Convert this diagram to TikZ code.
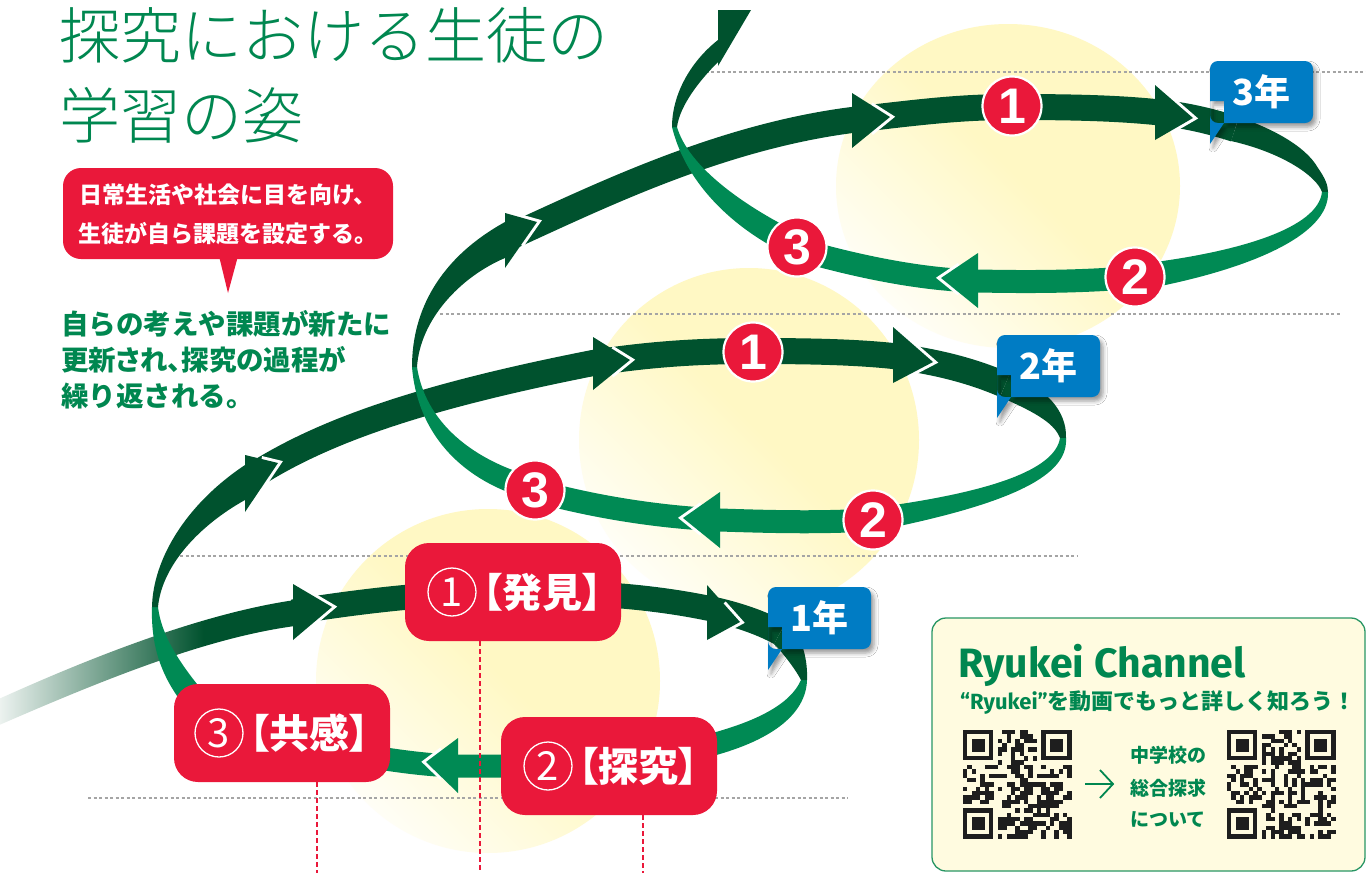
\documentclass[tikz,border=0pt]{standalone}
\usepackage{fontspec}
\setmainfont{Liberation Sans}
\newfontfamily\jp{Noto Sans CJK JP}
\newfontfamily\jpl{Noto Sans CJK JP Light}
\newfontfamily\jpp[RawFeature=+palt]{Noto Sans CJK JP}
\newfontfamily\digf{Liberation Sans}
\newfontfamily\lat{Fira Sans}
\usetikzlibrary{calc,shadows.blur}
\definecolor{dkg}{RGB}{0,82,46}
\definecolor{mdg}{RGB}{0,138,84}
\definecolor{tgreen}{RGB}{0,135,80}
\definecolor{redc}{RGB}{234,24,58}
\definecolor{bluec}{RGB}{0,124,196}
\definecolor{glowY}{RGB}{255,248,196}
\definecolor{boxY}{RGB}{255,251,224}
\definecolor{boxG}{RGB}{40,150,100}
\definecolor{dotg}{RGB}{165,165,165}
\definecolor{qrk}{RGB}{30,30,30}
\pgfdeclareverticalshading{glowv}{100bp}{color(0bp)=(white); color(20bp)=(white); color(52bp)=(glowY); color(100bp)=(glowY)}
\pgfdeclarehorizontalshading{fadeband}{100bp}{color(0bp)=(dkg!3); color(25bp)=(dkg!3); color(60bp)=(dkg); color(100bp)=(dkg)}
\tikzset{
  gline/.style={draw=dotg,line width=1.1,dash pattern=on 3pt off 2.5pt},
  rline/.style={draw=redc,line width=1.2,dash pattern=on 5pt off 3pt},
  frontband/.style={draw=dkg,line width=26},
  backband/.style={draw=mdg,line width=23},
  glowfill/.style={shading=glowv,shading angle=-45},
  numc/.style={circle,fill=redc,draw=white,line width=2.2,minimum size=59,inner sep=0,text=white,font=\digf\bfseries\fontsize{50}{50}\selectfont},
  rbox/.style={fill=redc,rounded corners=24,minimum width=216,minimum height=98,inner sep=0},
  cnum/.style={circle,draw=white,line width=1.3,minimum size=48,inner sep=0,text=white,font=\jp\fontsize{40}{40}\selectfont},
  btext/.style={inner sep=0,text=white,font=\jpp\bfseries\fontsize{40}{40}\selectfont},
  pics/yearlbl/.style={code={
    \fill[bluec,rounded corners=8,blur shadow={shadow xshift=3pt,shadow yshift=-4pt,shadow blur radius=4pt}] (0,0) rectangle (103,62) [sharp corners] (0,40) -- (14,40) -- (14,62) -- (0,83) -- cycle;
    \node[text=white,font=\jp\bfseries\fontsize{36}{36}\selectfont] at (51.5,31) {#1};}}
}
\newcommand{\myah}[4]{%
  \draw[white,line width=6,line join=miter,miter limit=10] ($#3!0.5!#2$) -- #3 -- ($#3!0.5!#4$);
  \fill[#1] #2 -- #3 -- #4 -- cycle;}
\newcommand{\qrdraw}[3]{%
  \pgfmathsetseed{#3}%
  \begin{scope}[shift={(#1,#2)}]
  \foreach \i in {0,...,24}{\foreach \j in {0,...,24}{%
    \pgfmathtruncatemacro\qon{(rnd<0.5)*(1-(\i<8)*(\j<8))*(1-(\i>16)*(\j<8))*(1-(\i<8)*(\j>16))}%
    \ifnum\qon>0 \fill[qrk] (\i*4.35,\j*4.35) rectangle ++(4.4,4.4);\fi
  }}
  \foreach \a/\b in {0/0,18/0,0/18}{%
    \fill[qrk] (\a*4.35,\b*4.35) rectangle ++(30.45,30.45);
    \fill[boxY] (\a*4.35+4.35,\b*4.35+4.35) rectangle ++(21.75,21.75);
    \fill[qrk] (\a*4.35+8.7,\b*4.35+8.7) rectangle ++(13.05,13.05);
  }
  \end{scope}}
\begin{document}
\begin{tikzpicture}[x=1pt,y=-1pt,line cap=butt]
\useasboundingbox[fill=white] (0,0) rectangle (1366,873);
% glows
\shade[glowfill] (488,681) ellipse [x radius=172pt,y radius=172pt];
\shade[glowfill] (749,440) ellipse [x radius=170pt,y radius=172pt];
\shade[glowfill] (1008,186) ellipse [x radius=172pt,y radius=162pt];
% grey guide lines
\draw[gline] (700,72) -- (1366,72);
\draw[gline] (440,314) -- (1340,314);
\draw[gline] (180,556) -- (1078,556);
\draw[gline] (88,798) -- (848,798);
% back bands
\draw[backband] (715,748) .. controls (640,762) and (560,767) .. (458,766) .. controls (420,765) and (395,760) .. (370,757);
\draw[backband] (885,519) .. controls (830,523) and (780,522) .. (720,520) .. controls (660,517) and (600,508) .. (540,492);
\draw[backband] (1140,277) .. controls (1080,282) and (1030,282) .. (978,281) .. controls (930,280) and (870,270) .. (800,250);
% right turns
\fill[mdg] (807,680) .. controls (806,715) and (770,742) .. (705,758) -- (705,735) .. controls (755,722) and (790,705) .. (801,680) -- cycle;
\fill[dkg] (786,622) .. controls (800,633) and (808,655) .. (807,680) -- (801,680) .. controls (797,672) and (785,655) .. (774,644) -- cycle;
\fill[dkg] (1010,373) .. controls (1045,388) and (1067,410) .. (1066,438) -- (1060,438) .. controls (1055,425) and (1040,414) .. (1000,397) -- cycle;
\fill[mdg] (1066,438) .. controls (1068,470) and (1030,500) .. (880,530) -- (880,507) .. controls (990,492) and (1055,470) .. (1060,438) -- cycle;
\fill[dkg] (1239,117) .. controls (1270,128) and (1305,145) .. (1318,168) .. controls (1325,178) and (1328,185) .. (1328,192) -- (1322,192) .. controls (1316,175) and (1280,152) .. (1231,141) -- cycle;
\fill[mdg] (1328,192) .. controls (1330,235) and (1250,270) .. (1140,290) -- (1140,264) .. controls (1240,252) and (1318,228) .. (1322,192) -- cycle;
% front bands
\shade[shading=fadeband] (-10,703) .. controls (95,655) and (205,613) .. (295,600) -- (295,626) .. controls (205,638) and (100,681) .. (-10,729) -- cycle;
\draw[frontband,line width=25] (293,612) .. controls (380,598) and (450,592) .. (515,592) .. controls (600,592) and (660,598) .. (712,609) .. controls (735,614) and (760,622) .. (780,633);
\draw[frontband] (250,478) .. controls (320,432) and (420,397) .. (593,363) .. controls (650,354) and (700,351) .. (753,351) .. controls (810,351) and (855,352) .. (893,356) .. controls (940,362) and (975,372) .. (1005,385);
\draw[frontband] (512,236) .. controls (600,196) and (720,137) .. (852,120) .. controls (920,112) and (960,107) .. (1012,107) .. controls (1070,107) and (1115,108) .. (1155,112) .. controls (1185,115) and (1210,121) .. (1235,129);
% rising strips
\fill[mdg] (180,700) .. controls (158,670) and (151,640) .. (152,607) -- (158,607) .. controls (162,640) and (185,670) .. (210,700) -- cycle;
\fill[dkg] (152,607) .. controls (153,560) and (185,505) .. (245,465) -- (245,500) .. controls (200,525) and (162,565) .. (158,607) -- cycle;
\fill[mdg] (545,503) .. controls (470,488) and (418,440) .. (412,367) -- (417,367) .. controls (425,420) and (470,462) .. (545,480) -- cycle;
\fill[dkg] (412,367) .. controls (412,310) and (440,258) .. (505,222) -- (505,258) .. controls (460,277) and (420,320) .. (417,367) -- cycle;
\fill[mdg] (805,262) .. controls (760,245) and (690,200) .. (672,127) -- (677,127) .. controls (688,165) and (740,205) .. (805,236) -- cycle;
\fill[dkg] (672,127) .. controls (672,95) and (690,62) .. (718,40) -- (718,62) .. controls (700,80) and (680,105) .. (677,127) -- cycle;
% arrowheads
\myah{dkg}{(293,584)}{(332,607)}{(293,640)}
\myah{dkg}{(707,585)}{(740,622)}{(707,640)}
\myah{dkg}{(245,455)}{(278,463)}{(245,512)}
\myah{dkg}{(593,337)}{(630,360)}{(593,390)}
\myah{dkg}{(893,327)}{(933,362)}{(893,383)}
\myah{dkg}{(505,213)}{(537,222)}{(505,268)}
\myah{dkg}{(852,93)}{(890,117)}{(852,148)}
\myah{dkg}{(1155,85)}{(1193,118)}{(1155,140)}
\myah{mdg}{(458,738)}{(426,762)}{(458,793)}
\myah{mdg}{(720,492)}{(683,518)}{(720,548)}
\myah{mdg}{(978,253)}{(941,278)}{(978,308)}
\fill[dkg] (718,66) -- (751,10) -- (718,10) -- cycle;
% numbered circles
\node[numc] (c31) at (1012,106) {1};
\node[numc] (c32) at (1135,277) {2};
\node[numc] (c33) at (797,247) {3};
\node[numc] (c21) at (753,352) {1};
\node[numc] (c22) at (873,520) {2};
\node[numc] (c23) at (535,490) {3};
% step boxes
\node[rbox] (hakken) at (513,592) {};
\node[rbox] (tankyu) at (609,766) {};
\node[rbox] (kyokan) at (282,733) {};
\node[cnum] (hk-n) at ([xshift=-61pt]hakken.center) {1};
\node[cnum] (tk-n) at ([xshift=-61pt]tankyu.center) {2};
\node[cnum] (ky-n) at ([xshift=-63pt]kyokan.center) {3};
\node[btext,anchor=west] (hk-t) at ([xshift=6pt]hk-n.east) {【発見】};
\node[btext,anchor=west] (tk-t) at ([xshift=6pt]tk-n.east) {【探究】};
\node[btext,anchor=west] (ky-t) at ([xshift=6pt]ky-n.east) {【共感】};
\draw[rline] ([xshift=35pt]kyokan.south) -- ++(0,92);
\draw[rline] ([xshift=-33pt]hakken.south) -- ++(0,234);
\draw[rline] ([xshift=34pt]tankyu.south) -- ++(0,60);
% year labels
\pic at (768,587) {yearlbl={1年}};
\pic at (997,335) {yearlbl={2年}};
\pic at (1210,61) {yearlbl={3年}};
% title
\node[anchor=base west,inner sep=0,text=tgreen,font=\jpl\fontsize{61}{61}\selectfont] (t1) at (59,58) {探究における生徒の};
\node[anchor=base west,inner sep=0,text=tgreen,font=\jpl\fontsize{61}{61}\selectfont] (t2) at (59,138) {学習の姿};
% callout
\fill[redc,rounded corners=18] (63,168) rectangle (393,259);
\fill[redc] (219,256) -- (238,256) -- (228,293) -- cycle;
\node[anchor=base,inner sep=0,text=white,font=\jp\bfseries\fontsize{23}{23}\selectfont] (co1) at (228,203) {日常生活や社会に目を向け、};
\node[anchor=base,inner sep=0,text=white,font=\jp\bfseries\fontsize{23}{23}\selectfont] (co2) at (228,242) {生徒が自ら課題を設定する。};
% paragraph
\node[anchor=base west,inner sep=0,text=tgreen,font=\jp\bfseries\fontsize{27.5}{27.5}\selectfont] (p1) at (61,334) {自らの考えや課題が新たに};
\node[anchor=base west,inner sep=0,text=tgreen,font=\jpp\bfseries\fontsize{27.5}{27.5}\selectfont] (p2) at (61,370) {更新され、探究の過程が};
\node[anchor=base west,inner sep=0,text=tgreen,font=\jp\bfseries\fontsize{27.5}{27.5}\selectfont] (p3) at (61,406) {繰り返される。};
% Ryukei box
\draw[boxG,fill=boxY,line width=1.3,rounded corners=14] (932,618) rectangle (1365,871);
\node[anchor=base west,inner sep=0,text=tgreen,font=\lat\bfseries\fontsize{41}{41}\selectfont] (rc) at (958,677) {Ryukei Channel};
\node[anchor=base west,inner sep=0,text=tgreen,font=\jp\bfseries\fontsize{22}{22}\selectfont] (rs) at (960,709) {{\lat\bfseries “Ryukei”}を動画でもっと詳しく知ろう！};
\qrdraw{963}{730}{17}
\qrdraw{1227}{730}{91}
\coordinate (qa1) at (1085,784);
\coordinate (qa2) at (1113,784);
\draw[tgreen,line width=1.8] (qa1) -- (qa2);
\draw[tgreen,line width=1.8,line join=miter] (1100,770) -- (qa2) -- (1100,798);
\node[anchor=base,inner sep=0,text=tgreen,font=\jp\bfseries\fontsize{19}{19}\selectfont] (q1) at (1168,762) {中学校の};
\node[anchor=base,inner sep=0,text=tgreen,font=\jp\bfseries\fontsize{19}{19}\selectfont] (q2) at (1168,795) {総合探求};
\node[anchor=base,inner sep=0,text=tgreen,font=\jp\bfseries\fontsize{19}{19}\selectfont] (q3) at (1168,826) {について};
\end{tikzpicture}
\end{document}
